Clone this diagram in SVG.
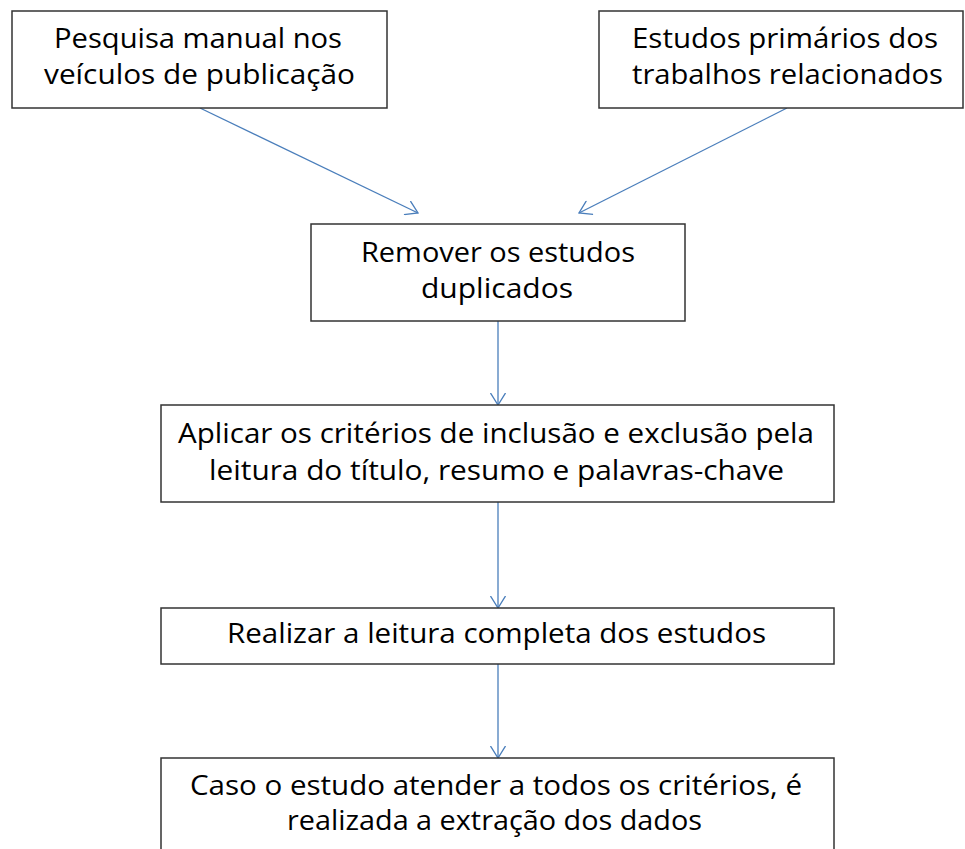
<svg xmlns="http://www.w3.org/2000/svg" width="965" height="849" viewBox="0 0 965 849">
<style>
.box{fill:#fff;stroke:#333;stroke-width:1.5}
.t{font-family:"Open Sans","Liberation Sans",sans-serif;font-size:28px;fill:#000}
.c{fill:none;stroke:#4a7ebb;stroke-width:1.3}
</style>
<defs>
<marker id="ah" viewBox="0 0 14 16" refX="12.5" refY="8" markerWidth="14" markerHeight="16" markerUnits="userSpaceOnUse" orient="auto">
<path d="M0.5,0.5 L12.5,8 L0.5,15.5" fill="none" stroke="#4a7ebb" stroke-width="1.3"/>
</marker>
</defs>
<rect width="965" height="849" fill="#fff"/>
<g id="connectors">
<line class="c" x1="200" y1="108" x2="418" y2="213" marker-end="url(#ah)"/>
<line class="c" x1="787" y1="108" x2="579" y2="213" marker-end="url(#ah)"/>
<line class="c" x1="498" y1="321" x2="498" y2="405" marker-end="url(#ah)"/>
<line class="c" x1="498" y1="502" x2="498" y2="608" marker-end="url(#ah)"/>
<line class="c" x1="498" y1="664" x2="498" y2="758" marker-end="url(#ah)"/>
</g>
<g id="n1">
<rect class="box" x="12" y="11" width="375" height="97"/>
<text class="t" x="54" y="48" textLength="288" lengthAdjust="spacingAndGlyphs">Pesquisa manual nos</text>
<text class="t" x="44" y="84" textLength="311" lengthAdjust="spacingAndGlyphs">veículos de publicação</text>
</g>
<g id="n2">
<rect class="box" x="599" y="11" width="364" height="97"/>
<text class="t" x="632" y="48" textLength="306" lengthAdjust="spacingAndGlyphs">Estudos primários dos</text>
<text class="t" x="632" y="84" textLength="311" lengthAdjust="spacingAndGlyphs">trabalhos relacionados</text>
</g>
<g id="n3">
<rect class="box" x="311" y="224" width="374" height="97"/>
<text class="t" x="361" y="262" textLength="274" lengthAdjust="spacingAndGlyphs">Remover os estudos</text>
<text class="t" x="421" y="298" textLength="152" lengthAdjust="spacingAndGlyphs">duplicados</text>
</g>
<g id="n4">
<rect class="box" x="161" y="405" width="673" height="97"/>
<text class="t" x="178" y="443" textLength="636" lengthAdjust="spacingAndGlyphs">Aplicar os critérios de inclusão e exclusão pela</text>
<text class="t" x="209" y="480" textLength="575" lengthAdjust="spacingAndGlyphs">leitura do título, resumo e palavras-chave</text>
</g>
<g id="n5">
<rect class="box" x="161" y="608" width="673" height="56"/>
<text class="t" x="227" y="643" textLength="539" lengthAdjust="spacingAndGlyphs">Realizar a leitura completa dos estudos</text>
</g>
<g id="n6">
<rect class="box" x="161" y="758" width="673" height="110"/>
<text class="t" x="190" y="795" textLength="612" lengthAdjust="spacingAndGlyphs">Caso o estudo atender a todos os critérios, é</text>
<text class="t" x="287" y="830" textLength="415" lengthAdjust="spacingAndGlyphs">realizada a extração dos dados</text>
</g>
</svg>
